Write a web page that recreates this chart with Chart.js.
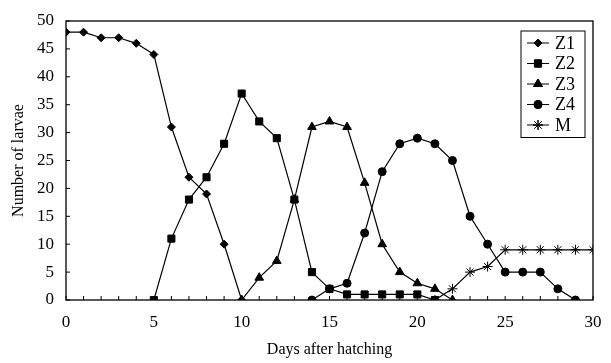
<!DOCTYPE html>
<html>
<head>
<meta charset="utf-8">
<script src="https://cdn.jsdelivr.net/npm/chart.js@4.4.1/dist/chart.umd.min.js"></script>
<style>
  html, body { margin: 0; padding: 0; background: #fff; }
  #wrap { width: 611px; height: 363px; }
</style>
</head>
<body>
<div id="wrap"><canvas id="larvaeChart"></canvas></div>
<script>
// Data (day -> number of larvae)
const days = [0, 1, 2, 3, 4, 5, 6, 7, 8, 9, 10, 11, 12, 13, 14, 15, 16, 17, 18, 19, 20, 21, 22, 23, 24, 25, 26, 27, 28, 29, 30];
const z1 = [48, 48, 47, 47, 46, 44, 31, 22, 19, 10, 0, null, null, null, null, null, null, null, null, null, null, null, null, null, null, null, null, null, null, null, null];
const z2 = [null, null, null, null, null, 0, 11, 18, 22, 28, 37, 32, 29, 18, 5, 2, 1, 1, 1, 1, 1, 0, null, null, null, null, null, null, null, null, null];
const z3 = [null, null, null, null, null, null, null, null, null, null, 0, 4, 7, 18, 31, 32, 31, 21, 10, 5, 3, 2, 0, null, null, null, null, null, null, null, null];
const z4 = [null, null, null, null, null, null, null, null, null, null, null, null, null, null, 0, 2, 3, 12, 23, 28, 29, 28, 25, 15, 10, 5, 5, 5, 2, 0, null];
const m = [null, null, null, null, null, null, null, null, null, null, null, null, null, null, null, null, null, null, null, null, null, 0, 2, 5, 6, 9, 9, 9, 9, 9, 9];

const xTicks = [0, 5, 10, 15, 20, 25, 30];
const yTicks = [0, 5, 10, 15, 20, 25, 30, 35, 40, 45, 50];

const serif = "'Liberation Serif', 'DejaVu Serif', serif";

function toPoints(values) {
    return days.map((d, i) => ({ x: d, y: values[i] }));
}

function series(label, values, style, radius) {
    return {
        label: label,
        data: toPoints(values),
        borderColor: '#000',
        backgroundColor: '#000',
        borderWidth: 1.2,
        pointStyle: style,
        pointRadius: radius,
        pointBorderWidth: 1,
        pointHoverRadius: radius,
        tension: 0
    };
}

// frame round the plot and short inward ticks
const framePlugin = {
    id: 'frame',
    afterDraw(chart) {
        const { ctx, chartArea: a, scales } = chart;
        ctx.save();
        ctx.strokeStyle = '#000';
        ctx.lineWidth = 1.3;
        ctx.strokeRect(a.left, a.top, a.right - a.left, a.bottom - a.top);
        ctx.lineWidth = 1;
        ctx.beginPath();
        days.forEach(d => {
            const x = scales.x.getPixelForValue(d);
            ctx.moveTo(x, a.bottom);
            ctx.lineTo(x, a.bottom - 4);
        });
        yTicks.forEach(v => {
            const y = scales.y.getPixelForValue(v);
            ctx.moveTo(a.left, y);
            ctx.lineTo(a.left + 4, y);
        });
        ctx.stroke();
        ctx.restore();
    }
};

// boxed legend inside the top right corner, line + marker samples
const boxLegend = {
    id: 'boxLegend',
    afterDraw(chart) {
        const { ctx, chartArea: a } = chart;
        const sets = chart.data.datasets;
        const boxW = 64, rowH = 20.5;
        const boxH = rowH * sets.length + 4;
        const left = a.right - 8 - boxW;
        const top = a.top + 10;
        ctx.save();
        ctx.strokeStyle = '#000';
        ctx.lineWidth = 1;
        ctx.strokeRect(left, top, boxW, boxH);
        ctx.font = '18px ' + serif;
        ctx.textBaseline = 'middle';
        ctx.fillStyle = '#000';
        sets.forEach((ds, i) => {
            const y = top + 12 + i * rowH;
            ctx.beginPath();
            ctx.moveTo(left + 6, y);
            ctx.lineTo(left + 28, y);
            ctx.stroke();
            Chart.helpers.drawPoint(ctx, {
                pointStyle: ds.pointStyle,
                radius: ds.pointRadius,
                borderWidth: 1,
                rotation: 0
            }, left + 17, y);
            ctx.fill();
            ctx.stroke();
            ctx.fillText(ds.label, left + 34, y + 1);
        });
        ctx.restore();
    }
};

const chart = new Chart(document.getElementById('larvaeChart'), {
    type: 'line',
    data: {
        datasets: [
            series('Z1', z1, 'rectRot', 4),
            series('Z2', z2, 'rect', 5),
            series('Z3', z3, 'triangle', 5),
            series('Z4', z4, 'circle', 4),
            series('M', m, 'star', 5)
        ]
    },
    options: {
        responsive: true,
        maintainAspectRatio: false,
        animation: false,
        layout: { padding: { top: 21, right: 18, left: 0, bottom: 0 } },
        plugins: {
            legend: { display: false },
            tooltip: { enabled: false }
        },
        scales: {
            x: {
                type: 'linear',
                min: 0,
                max: 30,
                afterFit: s => { s.height = 63; },
                afterBuildTicks: s => { s.ticks = xTicks.map(v => ({ value: v })); },
                grid: { display: false },
                border: { display: false },
                ticks: {
                    color: '#000',
                    font: { family: serif, size: 17 },
                    padding: 4,
                    maxRotation: 0
                },
                title: {
                    display: true,
                    text: 'Days after hatching',
                    color: '#000',
                    font: { family: serif, size: 16 },
                    padding: { top: 0, bottom: 4 }
                }
            },
            y: {
                min: 0,
                max: 50,
                afterFit: s => { s.width = 66; },
                afterBuildTicks: s => { s.ticks = yTicks.map(v => ({ value: v })); },
                grid: { display: false },
                border: { display: false },
                ticks: {
                    color: '#000',
                    font: { family: serif, size: 17 },
                    padding: 4
                },
                title: {
                    display: true,
                    text: 'Number of larvae',
                    color: '#000',
                    font: { family: serif, size: 16 },
                    padding: { top: 9, bottom: 0 }
                }
            }
        }
    },
    plugins: [framePlugin, boxLegend]
});
</script>
</body>
</html>
